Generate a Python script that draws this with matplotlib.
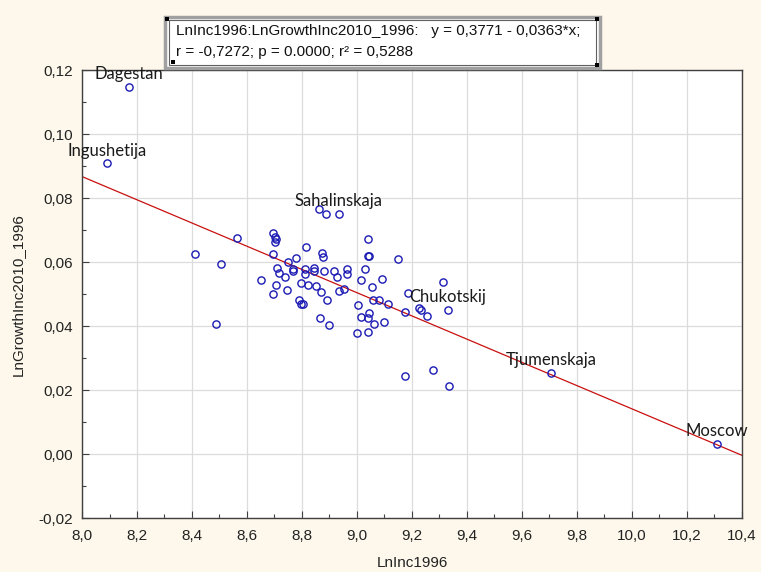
import matplotlib
matplotlib.use('Agg')
import matplotlib.pyplot as plt
from matplotlib.patches import Rectangle
import numpy as np

# ---- data ----
ln_inc_1996 = [
    8.5625, 8.410, 8.504, 8.696, 8.703, 8.705, 8.700, 8.696, 8.750, 8.651,
    8.710, 8.717, 8.739, 8.707, 8.693, 8.744, 8.863, 8.887, 8.816, 8.874,
    8.878, 9.040, 9.040, 9.044, 8.777, 8.768, 8.768, 8.811, 8.812, 8.845,
    8.845, 8.879, 8.918, 8.926, 8.964, 8.964, 9.030, 9.013, 9.091, 9.055,
    8.795, 8.822, 8.850, 8.868, 8.933, 8.953, 8.891, 8.788, 8.797, 8.802,
    9.0025, 9.057, 9.081, 8.864, 8.897, 9.015, 9.040, 9.045, 9.060, 9.000,
    9.040, 9.099, 9.113, 9.148, 9.313, 9.184, 9.173, 9.227, 9.231, 9.255,
    9.176, 9.275, 9.333, 8.487,
]
ln_growth_2010_1996 = [
    0.0676, 0.0626, 0.0595, 0.0690, 0.0679, 0.0671, 0.0664, 0.0626, 0.0601, 0.0544,
    0.0580, 0.0567, 0.0552, 0.0527, 0.0499, 0.0512, 0.0765, 0.0750, 0.0648, 0.0627,
    0.0617, 0.0672, 0.0620, 0.0619, 0.0612, 0.0578, 0.0572, 0.0577, 0.0562, 0.0582,
    0.0572, 0.0573, 0.0572, 0.0552, 0.0578, 0.0562, 0.0578, 0.0543, 0.0547, 0.0521,
    0.0534, 0.0529, 0.0525, 0.0507, 0.0508, 0.0516, 0.0481, 0.0481, 0.0470, 0.0469,
    0.0465, 0.0481, 0.0481, 0.0424, 0.0402, 0.0427, 0.0424, 0.0442, 0.0407, 0.0379,
    0.0382, 0.0411, 0.0468, 0.0609, 0.0537, 0.0502, 0.0445, 0.0455, 0.0451, 0.0432,
    0.0244, 0.0264, 0.0212, 0.0405,
]

label_names = ['Dagestan', 'Ingushetija', 'Sahalinskaja', 'Chukotskij', 'Tjumenskaja', 'Moscow']
label_x = [8.171, 8.091, 8.933, 9.331, 9.705, 10.309]
label_y = [0.1148, 0.0908, 0.0751, 0.0449, 0.0252, 0.0031]

intercept = 0.3771
slope = -0.0363

x_ticks = [8.0, 8.2, 8.4, 8.6, 8.8, 9.0, 9.2, 9.4, 9.6, 9.8, 10.0, 10.2, 10.4]
y_ticks = [-0.02, 0.00, 0.02, 0.04, 0.06, 0.08, 0.10, 0.12]

title_line1 = 'LnInc1996:LnGrowthInc2010_1996:   y = 0,3771 - 0,0363*x;'
title_line2 = 'r = -0,7272; p = 0.0000; r\u00b2 = 0,5288'
x_label = 'LnInc1996'
y_label = 'LnGrowthInc2010_1996'

# ---- figure ----
W, H = 761, 572
bg = '#FDF8EB'
fig = plt.figure(figsize=(W / 100, H / 100), dpi=100, facecolor=bg)
ax = fig.add_axes([82 / W, 1 - 518 / H, (742 - 82) / W, (518 - 70) / H])
ax.set_facecolor('white')

font = 'Liberation Sans'
lab_font = 'Lato'

ax.set_xlim(8.0, 10.4)
ax.set_ylim(-0.02, 0.12)
ax.set_xticks(x_ticks)
ax.set_yticks(y_ticks)
ax.set_xticks(np.arange(8.1, 10.4, 0.2), minor=True)
ax.set_yticks(np.arange(-0.01, 0.12, 0.02), minor=True)
ax.set_xticklabels([f'{v:.1f}'.replace('.', ',') for v in x_ticks], fontsize=11, family=font)
ax.set_yticklabels([f'{v:.2f}'.replace('.', ',') for v in y_ticks], fontsize=11, family=font)
ax.tick_params(which='both', direction='in', color='#404040', top=False, right=False)
ax.tick_params(which='major', length=5, width=0.8, labelcolor='#222222')
ax.tick_params(axis='x', which='major', pad=8)
ax.tick_params(axis='y', which='major', pad=6.5)
ax.tick_params(which='minor', length=3, width=0.8)
ax.grid(True, which='major', color='#DCDCDC', linewidth=0.9)
ax.set_axisbelow(True)
for s in ax.spines.values():
    s.set_color('#404040')
    s.set_linewidth(1.0)

# regression line
xl = np.array([8.0, 10.4])
ax.plot(xl, intercept + slope * xl, color='#C81010', linewidth=0.9, zorder=2)

# points
all_x = ln_inc_1996 + label_x
all_y = ln_growth_2010_1996 + label_y
ax.plot(all_x, all_y, linestyle='none', marker='o', markersize=5.2,
        markerfacecolor='none', markeredgecolor='#1A1AB4', markeredgewidth=1.0, zorder=3)

for name, lx, ly in zip(label_names, label_x, label_y):
    ax.annotate(name, (lx, ly), xytext=(0, 3.5), textcoords='offset points',
                ha='center', va='bottom', fontsize=12, family=lab_font,
                color='#1A1A1A', annotation_clip=False, zorder=4)

fig.text(412 / W, 1 - 563 / H, x_label, fontsize=11, family=font, color='#222222',
         ha='center', va='center')
fig.text(18 / W, 1 - 295 / H, y_label, fontsize=11, family=font, color='#222222',
         ha='center', va='center', rotation=90)

# ---- title box ----
bx0, by0, bx1, by1 = 165, 17, 600, 68
fig.patches.append(Rectangle((bx0 / W, 1 - by1 / H), (bx1 - bx0) / W, (by1 - by0) / H,
                             transform=fig.transFigure, facecolor='white',
                             edgecolor='#A0A0A0', linewidth=2.5, zorder=1))
fig.patches.append(Rectangle(((bx0 + 4) / W, 1 - (by1 - 3) / H), (bx1 - bx0 - 8) / W, (by1 - by0 - 6) / H,
                             transform=fig.transFigure, facecolor='none',
                             edgecolor='#606060', linewidth=0.8, zorder=2))
for cx, cy in [(bx0 + 2, by0 + 2), (bx1 - 3, by0 + 2), (bx0 + 8, by1 - 6), (bx1 - 3, by1 - 3)]:
    fig.patches.append(Rectangle(((cx - 2) / W, 1 - (cy + 2) / H), 4 / W, 4 / H,
                                 transform=fig.transFigure, facecolor='black',
                                 edgecolor='none', zorder=3))
fig.text(176 / W, 1 - 31 / H, title_line1, fontsize=11, family=font, va='center', ha='left', color='#111111')
fig.text(176 / W, 1 - 52 / H, title_line2, fontsize=11, family=font, va='center', ha='left', color='#111111')

fig.savefig('out.png', dpi=100, facecolor=bg)
